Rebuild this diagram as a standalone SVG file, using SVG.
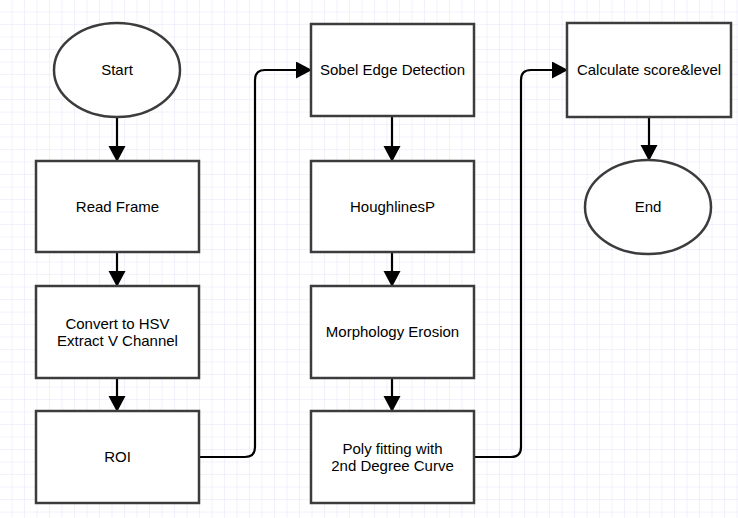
<svg xmlns="http://www.w3.org/2000/svg" width="738" height="518" viewBox="0 0 738 518">
<defs>
<pattern id="grid" width="12.5" height="12.5" patternUnits="userSpaceOnUse">
<path d="M12.5 0V12.5M0 12.5H12.5" fill="none" stroke="#e6e3fb" stroke-width="1"/>
</pattern>
<marker id="arr" markerWidth="16" markerHeight="18" refX="15" refY="8.5" orient="auto" markerUnits="userSpaceOnUse">
<path d="M0 0L16 8.5L0 17Z" fill="#000"/>
</marker>
</defs>
<style>
.n{fill:#fff;stroke:#3c3c3c;stroke-width:2.5}
.t{font-family:"Liberation Sans",Arial,sans-serif;font-size:15px;fill:#000;text-anchor:middle}
.c{fill:none;stroke:#000;stroke-width:2.2;marker-end:url(#arr)}
</style>
<rect width="738" height="518" fill="#fff"/>
<rect width="738" height="518" fill="url(#grid)"/>
<g id="connectors">
<path class="c" d="M117 117V161"/>
<path class="c" d="M117 252V286"/>
<path class="c" d="M117 378V411"/>
<path class="c" d="M199 457H245Q255 457 255 447V80Q255 70 265 70H311"/>
<path class="c" d="M392 116V161"/>
<path class="c" d="M392 252V286"/>
<path class="c" d="M392 378V411"/>
<path class="c" d="M474 457H511Q521 457 521 447V80Q521 70 531 70H567"/>
<path class="c" d="M649 117V160"/>
</g>
<g id="start"><ellipse class="n" cx="117" cy="70" rx="63" ry="47"/><text class="t" x="117" y="75">Start</text></g>
<g id="read"><rect class="n" x="36" y="161" width="163" height="91"/><text class="t" x="117.5" y="212">Read Frame</text></g>
<g id="convert"><rect class="n" x="36" y="286" width="163" height="92"/><text class="t" x="117.5" y="329">Convert to HSV</text><text class="t" x="117.5" y="346">Extract V Channel</text></g>
<g id="roi"><rect class="n" x="36" y="411" width="163" height="92"/><text class="t" x="117.5" y="462">ROI</text></g>
<g id="sobel"><rect class="n" x="311" y="24" width="163" height="92"/><text class="t" x="392.5" y="75">Sobel Edge Detection</text></g>
<g id="hough"><rect class="n" x="311" y="161" width="163" height="91"/><text class="t" x="392.5" y="212">HoughlinesP</text></g>
<g id="morph"><rect class="n" x="311" y="286" width="163" height="92"/><text class="t" x="392.5" y="337">Morphology Erosion</text></g>
<g id="poly"><rect class="n" x="311" y="411" width="163" height="92"/><text class="t" x="392.5" y="454">Poly fitting with</text><text class="t" x="392.5" y="471">2nd Degree Curve</text></g>
<g id="calc"><rect class="n" x="567" y="23" width="164" height="94"/><text class="t" x="649" y="75">Calculate score&amp;level</text></g>
<g id="end"><ellipse class="n" cx="648" cy="207" rx="63" ry="47"/><text class="t" x="648" y="212">End</text></g>
</svg>
